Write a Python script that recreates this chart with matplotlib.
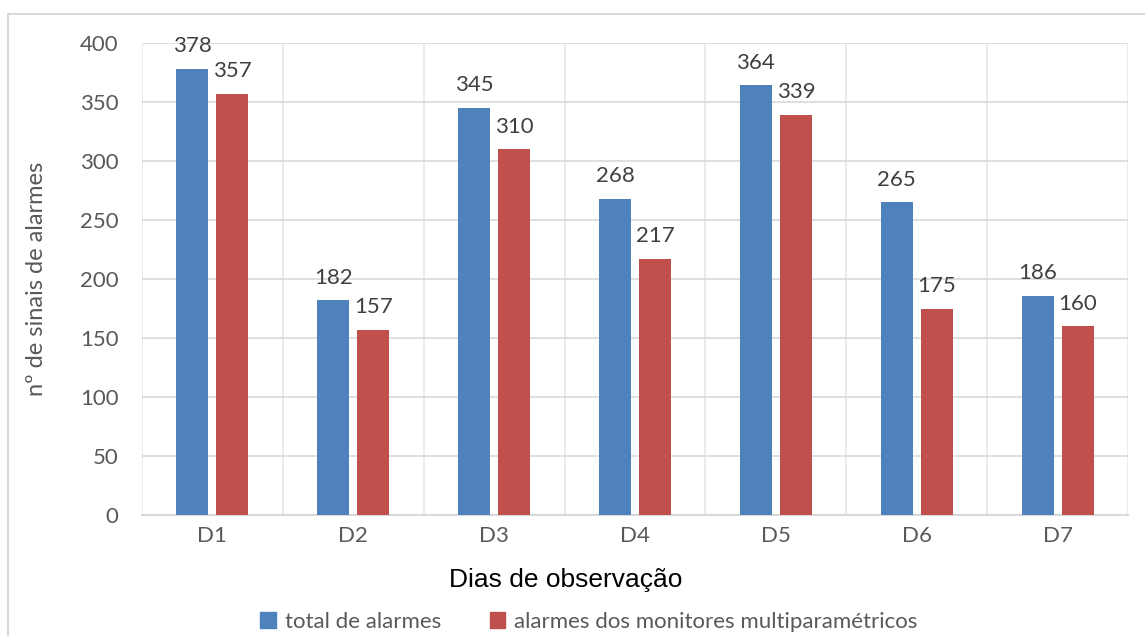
import matplotlib
matplotlib.use("Agg")
import matplotlib.pyplot as plt
import numpy as np
from matplotlib.lines import Line2D
from matplotlib.patches import Patch

categories = ["D1", "D2", "D3", "D4", "D5", "D6", "D7"]
total_alarmes = [378, 182, 345, 268, 364, 265, 186]
alarmes_monitores = [357, 157, 310, 217, 339, 175, 160]
series_names = ["total de alarmes", "alarmes dos monitores multiparamétricos"]
y_ticks = [0, 50, 100, 150, 200, 250, 300, 350, 400]

BLUE = "#4F81BD"
RED = "#C0504D"
GRID = "#D9D9D9"
TXT = "#595959"
LBL = "#404040"
FONT = "Lato"
FS = 16

W, H = 1145, 636
fig = plt.figure(figsize=(W / 100, H / 100), dpi=100)
fig.patch.set_facecolor("white")

# outer chart frame (extends past right/bottom edge)
fig.add_artist(Line2D([8 / W, 8 / W, 1.0], [0.0, 1 - 14 / H, 1 - 14 / H],
                      transform=fig.transFigure, color=GRID, lw=1.5))

ax = fig.add_axes([142 / W, (H - 515) / H, 986 / W, 472 / H])
x = np.arange(len(categories))
bw = 0.227
off = 0.142
b1 = ax.bar(x - off, total_alarmes, bw, color=BLUE, zorder=3)
b2 = ax.bar(x + off, alarmes_monitores, bw, color=RED, zorder=3)

for bars, vals in ((b1, total_alarmes), (b2, alarmes_monitores)):
    for r, v in zip(bars, vals):
        ax.annotate(str(v), (r.get_x() + r.get_width() / 2, v), xytext=(0, 9),
                    textcoords="offset points", ha="center", va="bottom",
                    fontsize=FS, color=LBL, family=FONT)

ax.set_xlim(-0.5, len(categories) - 0.5)
ax.set_ylim(0, 400)
ax.set_yticks(y_ticks)
ax.set_xticks(x)
ax.set_xticklabels(categories)
ax.set_xticks(np.arange(-0.5, len(categories), 0.5), minor=True)
ax.grid(axis="y", color=GRID, lw=1.2, zorder=0)
ax.grid(axis="x", which="minor", color="#E8E8E8", lw=1.2, zorder=0)
ax.tick_params(axis="both", which="both", length=0)
ax.tick_params(axis="y", pad=17, labelsize=FS, labelcolor=TXT)
ax.tick_params(axis="x", pad=8, labelsize=FS, labelcolor=TXT)
for lab in ax.get_xticklabels() + ax.get_yticklabels():
    lab.set_family(FONT)
for s in ("top", "right", "left"):
    ax.spines[s].set_visible(False)
ax.spines["bottom"].set_color(GRID)
ax.spines["bottom"].set_linewidth(1.5)

ax.set_ylabel("nº de sinais de alarmes", fontsize=17, color=TXT, family=FONT)
ax.yaxis.set_label_coords((47 - 142) / 986, 0.5)
fig.text(566 / W, 1 - 580 / H, "Dias de observação", ha="center", va="center",
         fontsize=19, color="black", family="Liberation Sans")

handles = [Patch(color=BLUE), Patch(color=RED)]
leg = fig.legend(handles, series_names, loc="center", bbox_to_anchor=(589 / W, 1 - 622 / H),
                 ncol=2, frameon=False, prop={"family": FONT, "size": FS},
                 handlelength=0.7, handleheight=0.7, handletextpad=0.4,
                 columnspacing=2.2, labelcolor=TXT)

fig.savefig("out.png", dpi=100, facecolor="white")
